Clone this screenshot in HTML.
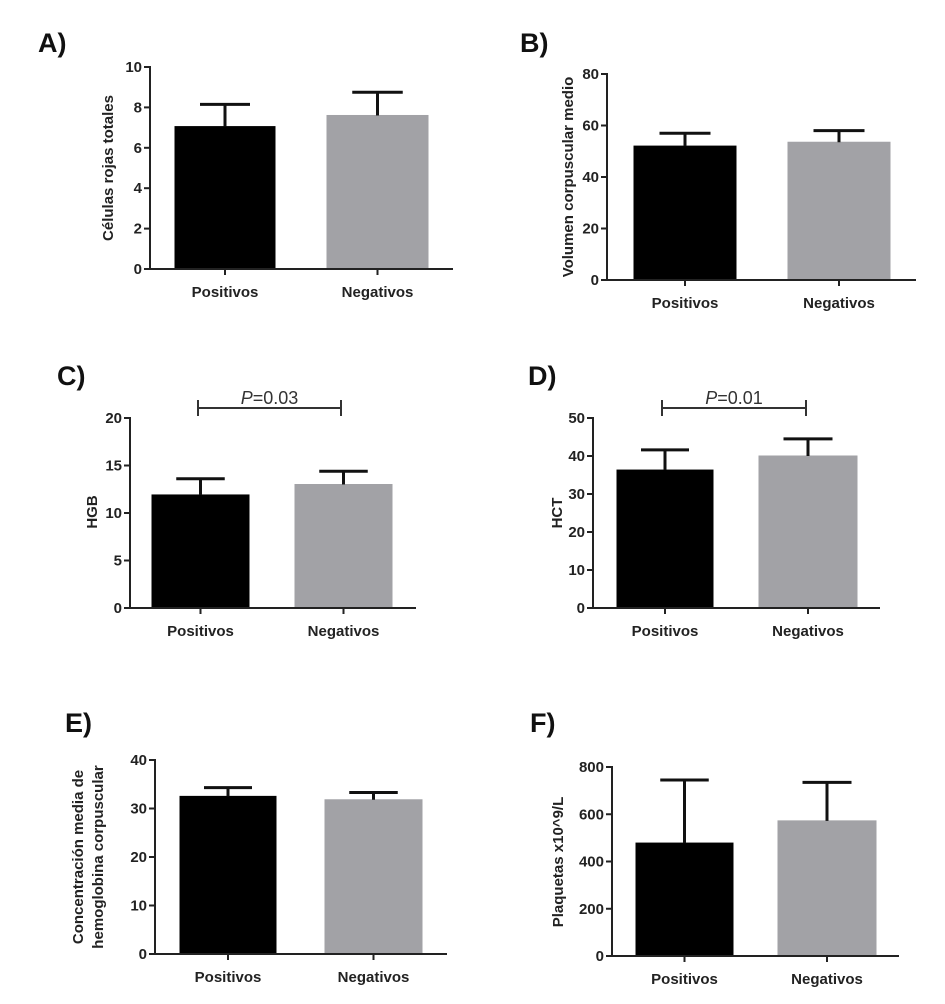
<!DOCTYPE html>
<html><head><meta charset="utf-8">
<style>
html,body{margin:0;padding:0;background:#fff;}
svg{display:block;font-family:"Liberation Sans",Arial,sans-serif;}
</style></head>
<body>
<svg id="fig" width="945" height="1004" viewBox="0 0 945 1004"></svg>
<script>
const categories = ["Positivos", "Negativos"];
const panelLetters = ["A)", "B)", "C)", "D)", "E)", "F)"];
const yTitles = [["Células rojas totales"], ["Volumen corpuscular medio"], ["HGB"], ["HCT"], ["Concentración media de", "hemoglobina corpuscular"], ["Plaquetas  x10^9/L"]];
const meansA = [7.05, 7.6];   const errA = [8.15, 8.75];
const meansB = [52, 53.5];    const errB = [57, 58];
const meansC = [11.9, 13.0];  const errC = [13.6, 14.4];
const meansD = [36.3, 40.0];  const errD = [41.6, 44.5];
const meansE = [32.5, 31.8];  const errE = [34.3, 33.3];
const meansF = [478, 572];    const errF = [745, 735];
const ticksA = [0, 2, 4, 6, 8, 10];
const ticksB = [0, 20, 40, 60, 80];
const ticksC = [0, 5, 10, 15, 20];
const ticksD = [0, 10, 20, 30, 40, 50];
const ticksE = [0, 10, 20, 30, 40];
const ticksF = [0, 200, 400, 600, 800];
const pLabels = [null, null, "0.03", "0.01", null, null];

const NS = "http://www.w3.org/2000/svg";
const svg = document.getElementById("fig");
function mk(tag, attrs, parent) {
  const e = document.createElementNS(NS, tag);
  for (const k in attrs) e.setAttribute(k, attrs[k]);
  (parent || svg).appendChild(e);
  return e;
}
const layout = [
  {ax:150, y0:269, yTop:67, xEnd:453, bars:[[175,275],[327,428]], lx:38, ly:42, tx:108, ty:168},
  {ax:607, y0:280, yTop:74, xEnd:916, bars:[[634,736],[788,890]], lx:520, ly:42, tx:568, ty:177},
  {ax:130, y0:608, yTop:418, xEnd:416, bars:[[152,249],[295,392]], lx:57, ly:375, tx:92, ty:512, bx:[198,341]},
  {ax:593, y0:608, yTop:418, xEnd:880, bars:[[617,713],[759,857]], lx:528, ly:375, tx:557, ty:513, bx:[662,806]},
  {ax:155, y0:954, yTop:760, xEnd:447, bars:[[180,276],[325,422]], lx:65, ly:722, tx:88, ty:857},
  {ax:612, y0:956, yTop:767, xEnd:899, bars:[[636,733],[778,876]], lx:530, ly:722, tx:558, ty:862}
];
const means = [meansA, meansB, meansC, meansD, meansE, meansF];
const errs = [errA, errB, errC, errD, errE, errF];
const ticks = [ticksA, ticksB, ticksC, ticksD, ticksE, ticksF];
const ids = ["a","b","c","d","e","f"];
const colors = ["#000000", "#a2a2a6"];

layout.forEach((L, p) => {
  const g = mk("g", {});
  
  
  const tk = ticks[p];
  const yMax = tk[tk.length - 1];
  const yS = v => L.y0 - (v / yMax) * (L.y0 - L.yTop);
  const lt = mk("text", {x:L.lx, y:L.ly + 10, "font-size":27, "font-weight":"bold", fill:"#111"}, g);
  lt.textContent = panelLetters[p];
  
  
  means[p].forEach((m, i) => {
    const [x1, x2] = L.bars[i];
    const r = mk("rect", {x:x1, y:yS(m), width:x2 - x1, height:L.y0 - yS(m), fill:colors[i], stroke: i===0?"#000":"#a2a2a6", "stroke-width":1}, g);
    
    
    const cx = (x1 + x2) / 2;
    const hw = (x2 - x1) / 4;
    const eb = mk("path", {d:`M${cx},${yS(m)}V${yS(errs[p][i])}M${cx-hw},${yS(errs[p][i])}H${cx+hw}`, stroke:"#111", "stroke-width":3, fill:"none"}, g);
    
    
    mk("path", {d:`M${cx},${L.y0}V${L.y0+6}`, stroke:"#222", "stroke-width":2}, g);
    const cl = mk("text", {x:cx, y:L.y0 + 28, "font-size":15, "font-weight":"bold", "text-anchor":"middle", fill:"#222"}, g);
    cl.textContent = categories[i];
    
    
  });
  const ya = mk("path", {d:`M${L.ax},${L.yTop-1}V${L.y0}H${L.xEnd}`, stroke:"#222", "stroke-width":2, fill:"none"}, g);
  
  
  tk.forEach(t => {
    mk("path", {d:`M${L.ax-6},${yS(t)}H${L.ax}`, stroke:"#222", "stroke-width":2}, g);
    const tl = mk("text", {x:L.ax - 8, y:yS(t) + 5, "font-size":15, "font-weight":"bold", "text-anchor":"end", fill:"#222"}, g);
    tl.textContent = t;
    
    
  });
  const lines = yTitles[p];
  lines.forEach((s, i) => {
    const off = (i - (lines.length - 1) / 2) * 20;
    const yt = mk("text", {x:0, y:0, "font-size":15, "font-weight":"bold", "text-anchor":"middle", fill:"#222",
      transform:`translate(${L.tx + off + 5},${L.ty}) rotate(-90)`}, g);
    yt.textContent = s;
    
    
  });
  if (pLabels[p]) {
    const [b1, b2] = L.bx;
    const br = mk("path", {d:`M${b1},400V416M${b1},408H${b2}M${b2},400V416`, stroke:"#333", "stroke-width":2, fill:"none"}, g);
    
    
    const pt = mk("text", {x:(b1 + b2) / 2, y:404, "font-size":18, "text-anchor":"middle", fill:"#333"}, g);
    const pi = mk("tspan", {"font-style":"italic"}, pt);
    pi.textContent = "P";
    const pv = mk("tspan", {}, pt);
    pv.textContent = "=" + pLabels[p];
    
    
  }
});
</script>
</body></html>
